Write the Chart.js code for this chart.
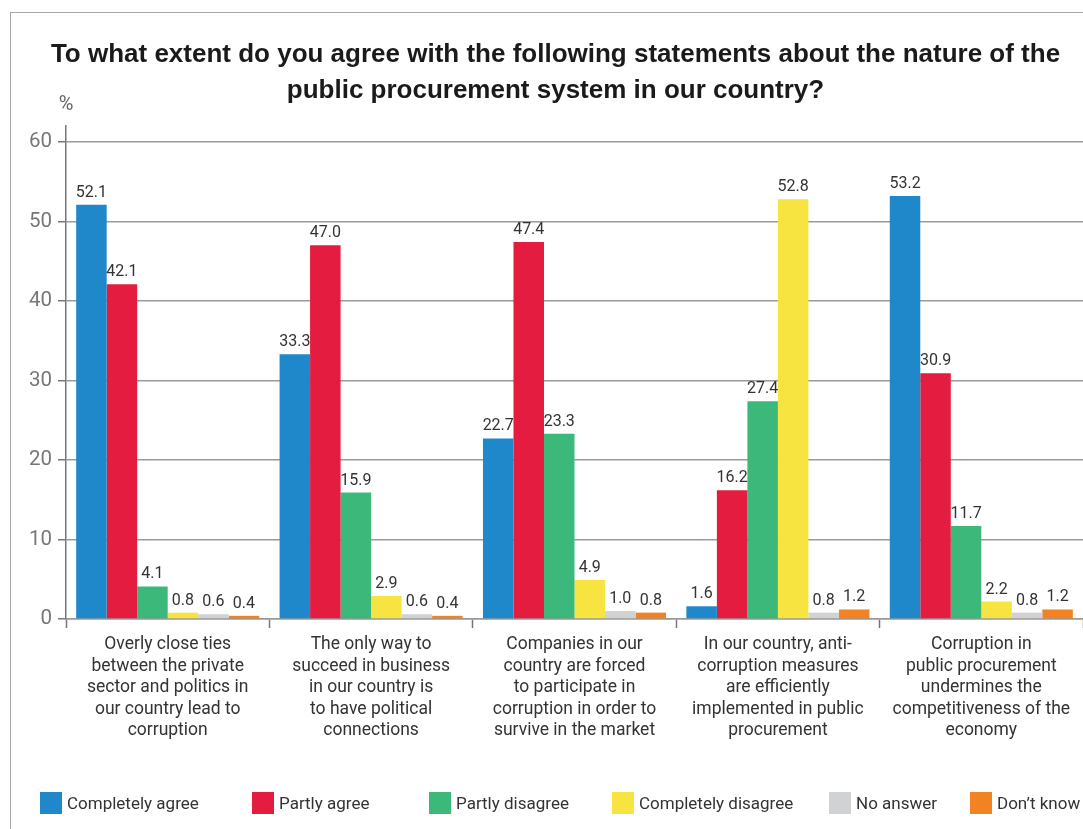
<!DOCTYPE html>
<html>
<head>
<meta charset="utf-8">
<script src="https://cdn.jsdelivr.net/npm/chart.js@4/dist/chart.umd.min.js"></script>
<style>
  html, body { margin: 0; padding: 0; background: #fff; }
  #wrap { position: relative; width: 1083px; height: 829px; overflow: hidden; }
  #frame {
    position: absolute; left: 10px; top: 12px; right: -10px; bottom: -10px;
    border-top: 1.5px solid #a8a8a8; border-left: 1.5px solid #a8a8a8;
    pointer-events: none;
  }
  #legend {
    position: absolute; left: 0; top: 792px; width: 1083px; height: 22px;
    font-family: Roboto, "Noto Sans", sans-serif; font-size: 17px; color: #333;
  }
  #legend .item { position: absolute; top: 0; display: flex; align-items: center; height: 22px; white-space: nowrap; }
  #legend .box { width: 22px; height: 22px; margin-right: 5px; }
</style>
</head>
<body>
<div id="wrap">
  <canvas id="procurementChart" width="1083" height="829"></canvas>
  <div id="frame"></div>
  <div id="legend"></div>
</div>
<script>
// Survey statements (x categories), one array per answer option
const statements = [
  ["Overly close ties", "between the private", "sector and politics in", "our country lead to", "corruption"],
  ["The only way to", "succeed in business", "in our country is", "to have political", "connections"],
  ["Companies in our", "country are forced", "to participate in", "corruption in order to", "survive in the market"],
  ["In our country, anti-", "corruption measures", "are efficiently", "implemented in public", "procurement"],
  ["Corruption in", "public procurement", "undermines the", "competitiveness of the", "economy"]
];
const answerLabels = ["Completely agree", "Partly agree", "Partly disagree", "Completely disagree", "No answer", "Don\u2019t know"];
const completelyAgree = [52.1, 33.3, 22.7, 1.6, 53.2];
const partlyAgree = [42.1, 47.0, 47.4, 16.2, 30.9];
const partlyDisagree = [4.1, 15.9, 23.3, 27.4, 11.7];
const completelyDisagree = [0.8, 2.9, 4.9, 52.8, 2.2];
const noAnswer = [0.6, 0.6, 1.0, 0.8, 0.8];
const dontKnow = [0.4, 0.4, 0.8, 1.2, 1.2];
const yTicks = [0, 10, 20, 30, 40, 50, 60];

const colors = ["#1f88ca", "#e31c40", "#3cb97a", "#f8e440", "#d1d2d4", "#f28322"];
const series = [completelyAgree, partlyAgree, partlyDisagree, completelyDisagree, noAnswer, dontKnow];

// left offsets of the legend entries
const legendLefts = [40, 252, 429, 612, 829, 970];

const labelFont = "Roboto, 'Noto Sans', sans-serif";

// Value labels above every bar
const barValues = {
  id: "barValues",
  afterDatasetsDraw(chart) {
    const ctx = chart.ctx;
    ctx.save();
    ctx.font = "16px " + labelFont;
    ctx.fillStyle = "#333";
    ctx.textAlign = "center";
    ctx.textBaseline = "bottom";
    chart.data.datasets.forEach((ds, i) => {
      chart.getDatasetMeta(i).data.forEach((bar, j) => {
        ctx.fillText(ds.data[j].toFixed(1), bar.x, bar.y - 4);
      });
    });
    ctx.restore();
  }
};

// "%" unit label over the value axis
const unitLabel = {
  id: "unitLabel",
  afterDraw(chart) {
    const ctx = chart.ctx;
    const y = chart.scales.y;
    ctx.save();
    ctx.font = "20px " + labelFont;
    ctx.fillStyle = "#666";
    ctx.textAlign = "center";
    ctx.textBaseline = "middle";
    ctx.fillText("%", y.right, chart.chartArea.top - 21);
    ctx.restore();
  }
};

const chart = new Chart(document.getElementById("procurementChart"), {
  type: "bar",
  data: {
    labels: statements,
    datasets: series.map((data, i) => ({
      label: answerLabels[i],
      data: data,
      backgroundColor: colors[i],
      categoryPercentage: 0.9,
      barPercentage: 1.0
    }))
  },
  options: {
    responsive: false,
    animation: false,
    layout: { padding: { top: 0, left: 28, right: 0, bottom: 0 } },
    plugins: {
      legend: { display: false },
      tooltip: { enabled: false },
      title: {
        display: true,
        text: [
          "To what extent do you agree with the following statements about the nature of the",
          "public procurement system in our country?"
        ],
        color: "#1a1a1a",
        font: { family: "'Liberation Sans', Arial, sans-serif", size: 26, weight: "bold", lineHeight: 36 / 26 },
        padding: { top: 37, bottom: 17 }
      }
    },
    scales: {
      x: {
        grid: { display: true, drawOnChartArea: false, drawTicks: true, tickLength: 9, tickColor: "#777", tickWidth: 1.5 },
        border: { color: "#999", width: 1.5 },
        ticks: {
          color: "#333",
          padding: 6,
          maxRotation: 0,
          autoSkip: false,
          font: { family: labelFont, size: 17.5, lineHeight: 21.5 / 17.5 }
        },
        afterFit(scale) { scale.height = 829 - 619; }
      },
      y: {
        min: 0,
        max: 62,
        afterBuildTicks(scale) { scale.ticks = yTicks.map(v => ({ value: v })); },
        grid: { color: "#9a9a9a", lineWidth: 1.5, tickLength: 8, tickColor: "#777", tickWidth: 1.5 },
        border: { color: "#777", width: 1.5 },
        ticks: {
          color: "#777",
          padding: 6,
          font: { family: labelFont, size: 20.5 }
        },
        // axis line sits at x = 66 (28 px padding + 38 px scale)
        afterFit(scale) { scale.width = 38; }
      }
    }
  },
  plugins: [barValues, unitLabel]
});

// HTML legend built from the datasets
const legendEl = document.getElementById("legend");
chart.data.datasets.forEach((ds, i) => {
  const item = document.createElement("div");
  item.className = "item";
  item.style.left = legendLefts[i] + "px";
  const box = document.createElement("span");
  box.className = "box";
  box.style.background = ds.backgroundColor;
  const text = document.createElement("span");
  text.textContent = ds.label;
  item.appendChild(box);
  item.appendChild(text);
  legendEl.appendChild(item);
});
</script>
</body>
</html>
